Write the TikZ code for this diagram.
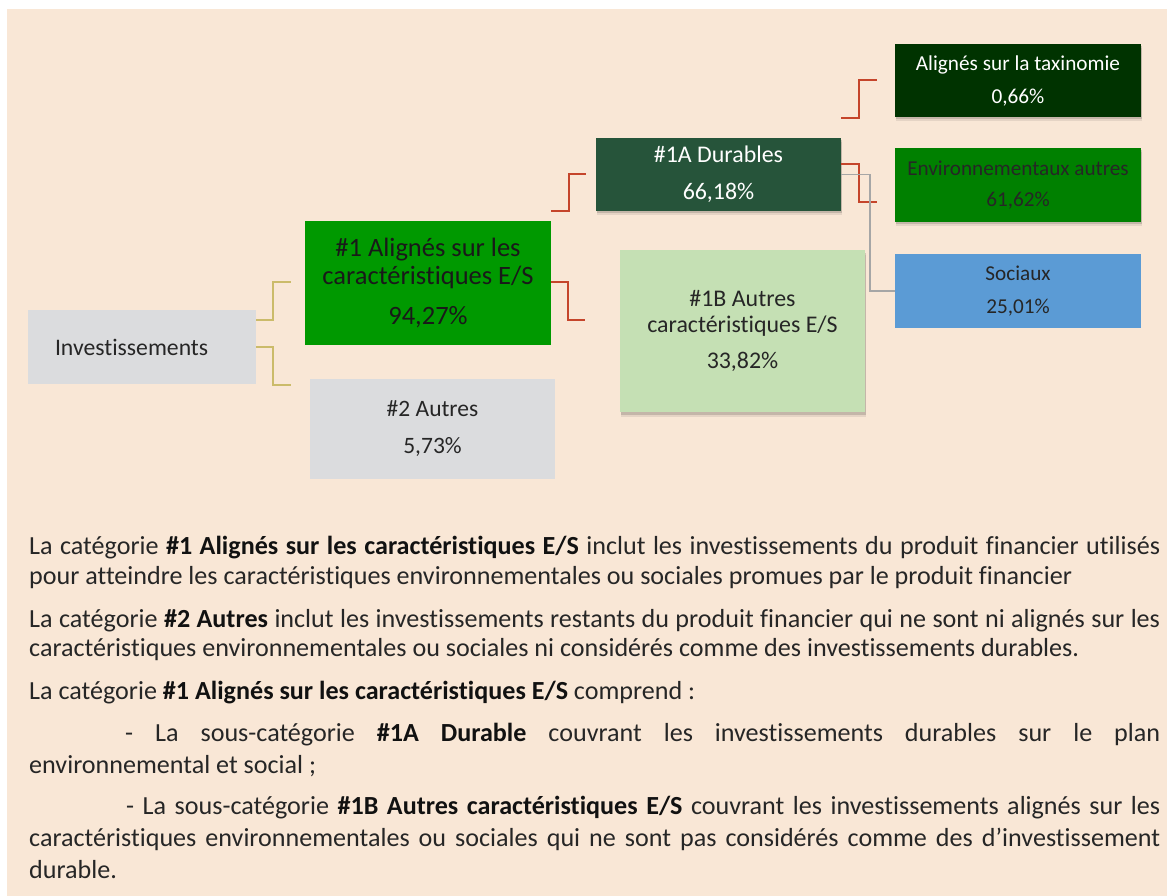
\documentclass[tikz,border=0pt]{standalone}
\usepackage{fontspec}
\setmainfont{Carlito}[Ligatures={NoCommon}]
\usetikzlibrary{shadows,calc}
\definecolor{bg}{HTML}{F9E7D6}
\definecolor{boxgrey}{HTML}{DBDCDE}
\definecolor{greenA}{HTML}{009900}
\definecolor{darkA}{HTML}{26543A}
\definecolor{lightB}{HTML}{C5E0B4}
\definecolor{taxg}{HTML}{003300}
\definecolor{envg}{HTML}{008000}
\definecolor{socb}{HTML}{5B9BD5}
\definecolor{redline}{HTML}{C5452B}
\definecolor{oliveline}{HTML}{CBBB6A}
\definecolor{greyline}{HTML}{A6A6A6}
\definecolor{txtdark}{HTML}{262626}
\definecolor{txtbold}{HTML}{111111}
\newcommand{\bd}[1]{{\bfseries\color{txtbold}#1}}
\begin{document}
\begin{tikzpicture}[x=1pt,y=-1pt,
  box/.style={draw=none,inner sep=0pt,align=center,text=txtdark},
  shad/.style={drop shadow={shadow xshift=0.5pt,shadow yshift=-4.5pt,opacity=0.08,fill=black},
               drop shadow={shadow xshift=1pt,shadow yshift=-2.5pt,opacity=0.14,fill=black}},
  redc/.style={draw=redline,line width=2pt},
  olivec/.style={draw=oliveline,line width=2pt},
  greyc/.style={draw=greyline,line width=1.5pt},
  bodyline/.style={anchor=base west,inner sep=0pt,text=txtdark,font=\fontsize{26.1}{29}\selectfont}
]
\useasboundingbox (0,0) rectangle (1167,896);
\fill[white] (0,0) rectangle (1167,896);
\fill[bg] (7,9) rectangle (1167,896);

% boxes
\node[box,fill=boxgrey,minimum width=228pt,minimum height=74pt,font=\fontsize{23.7}{28}\selectfont] (inv) at (142,347) {\makebox[174pt][l]{Investissements}};
\node[box,fill=greenA,minimum width=246pt,minimum height=124pt,font=\fontsize{26.5}{28.3}\selectfont,text=black!90] (p1) at (428,283) {\#1 Alignés sur les\\caractéristiques E/S\\[11.7pt]94,27\%};
\node[box,fill=boxgrey,minimum width=245pt,minimum height=100pt,font=\fontsize{23.5}{36.5}\selectfont] (p2) at (432.5,428.5) {\#2 Autres\\5,73\%};
\node[box,shad,fill=darkA,minimum width=245pt,minimum height=73pt,font=\fontsize{23.9}{36.6}\selectfont,text=white] (p1a) at (718.5,174.5) {\#1A Durables\\66,18\%};
\node[box,shad,fill=lightB,minimum width=245pt,minimum height=162pt,font=\fontsize{23.9}{26}\selectfont] (p1b) at (742.5,331) {\#1B Autres\\caractéristiques E/S\\[10.6pt]33,82\%};
\node[box,shad,fill=taxg,minimum width=246pt,minimum height=73pt,font=\fontsize{21.25}{33}\selectfont,text=white] (tax) at (1018,80.5) {Alignés sur la taxinomie\\0,66\%};
\node[box,shad,fill=envg,minimum width=246pt,minimum height=74pt,font=\fontsize{21.2}{31}\selectfont,text=black!85] (env) at (1018,185) {Environnementaux autres\\61,62\%};
\node[box,fill=socb,minimum width=246pt,minimum height=74pt,font=\fontsize{21.2}{33}\selectfont] (soc) at (1018,291) {Sociaux\\25,01\%};

% connectors
\draw[olivec] ($(inv.east)+(0,-27)$) -- ++(17,0) |- ($(p1.west)+(-14,-1)$);
\draw[olivec] (inv.east) -- ++(17,0) |- ($(p2.north west)+(-19,7)$);
\draw[redc] ($(p1.north east)+(0,-10)$) -- ++(18,0) |- ($(p1a.west)+(-10,0)$);
\draw[redc] ($(p1.east)+(0,-1)$) -- ++(17,0) |- ($(p1b.west)+(-35,-11)$);
\draw[redc] ($(p1a.north east)+(0,-20)$) -- ++(18,0) |- ($(tax.west)+(-18,0)$);
\draw[redc] ($(p1a.east)+(0,-10)$) -- ++(18,0) |- ($(env.west)+(-18,17)$);
\draw[greyc] (p1a.east) -- ++(29,0) |- (soc.west);

% body text
\node[bodyline] (l1) at (29,554) {\makebox[1131pt][s]{La catégorie \bd{\#1 Alignés sur les caractéristiques E/S} inclut les investissements du produit financier utilisés}};
\node[bodyline] (l2) at (29,584) {pour atteindre les caractéristiques environnementales ou sociales promues par le produit financier};
\node[bodyline] (l3) at (29,627) {\makebox[1131pt][s]{La catégorie \bd{\#2 Autres} inclut les investissements restants du produit financier qui ne sont ni alignés sur les}};
\node[bodyline] (l4) at (29,656) {caractéristiques environnementales ou sociales ni considérés comme des investissements durables.};
\node[bodyline] (l5) at (29,699) {La catégorie \bd{\#1 Alignés sur les caractéristiques E/S} comprend :};
\node[bodyline] (l6) at (125,741) {\makebox[1035pt][s]{- La sous-catégorie \bd{\#1A Durable} couvrant les investissements durables sur le plan}};
\node[bodyline] (l7) at (29,773) {environnemental et social ;};
\node[bodyline] (l8) at (126,814) {\makebox[1034pt][s]{- La sous-catégorie \bd{\#1B Autres caractéristiques E/S} couvrant les investissements alignés sur les}};
\node[bodyline] (l9) at (29,846) {\makebox[1131pt][s]{caractéristiques environnementales ou sociales qui ne sont pas considérés comme des d’investissement}};
\node[bodyline] (l10) at (29,878) {durable.};
\end{tikzpicture}
\end{document}
